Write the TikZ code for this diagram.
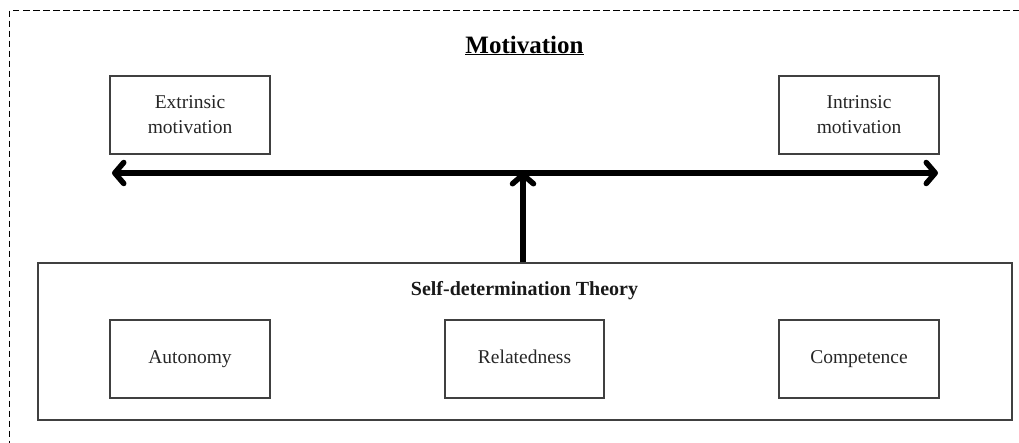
\documentclass[tikz,border=0pt]{standalone}
\usepackage{fontspec}
\setmainfont{Liberation Serif}
\usetikzlibrary{arrows.meta}
\begin{document}
\begin{tikzpicture}[x=1pt,y=-1pt,
  box/.style={draw=black!75, line width=1.1pt, minimum width=160pt, minimum height=78pt, inner sep=0pt, align=center, font=\fontsize{19.5}{25}\selectfont, text=black!85},
  onebox/.style={box, text height=13.5pt, text depth=4.5pt},
  bigarrow/.style={line width=5.5pt, -{Straight Barb[length=9pt,width=21pt,round]}},
  title/.style={font=\fontsize{20}{24}\selectfont\bfseries, text=black!90, inner sep=0pt}]
\useasboundingbox (0,0) rectangle (1019,442);
\begin{scope}
\clip (0,0) rectangle (1019,442);
\draw[line width=1.9pt, dash pattern=on 6.5pt off 3.5pt] (9.5,10.5) rectangle (1030,460);
\end{scope}
\node[font=\fontsize{25}{30}\selectfont\bfseries, inner sep=0pt, anchor=base] (mot) at (524.5,53) {\underline{Motivation}};
\node[box] (ext) at (190,115) {Extrinsic\\motivation};
\node[box] (int) at (859,115) {Intrinsic\\motivation};
\node[draw=black!75, line width=1.1pt, minimum width=974pt, minimum height=157pt, inner sep=0pt] (sdt) at (525,341.5) {};
\node[title, anchor=base] (sdtt) at (524.5,295) {Self-determination Theory};
\node[onebox] (aut) at (190,359) {Autonomy};
\node[onebox, minimum width=159pt] (rel) at (524.5,359) {Relatedness};
\node[onebox] (comp) at (859,359) {Competence};
\coordinate (L) at (112,173);
\coordinate (R) at (938,173);
\coordinate (M) at (523,173);
\draw[bigarrow] (M) -- (L);
\draw[bigarrow] (M) -- (R);
\draw[bigarrow, shorten >=-1pt] (sdt.north -| M) -- (M);
\end{tikzpicture}
\end{document}
